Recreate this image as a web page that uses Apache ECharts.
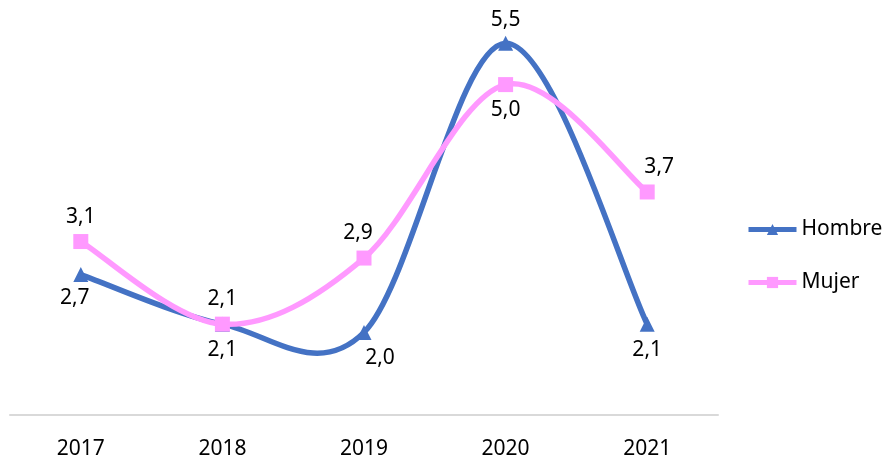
<!DOCTYPE html>
<html>
<head>
<meta charset="utf-8">
<script src="https://cdn.jsdelivr.net/npm/echarts@6/dist/echarts.min.js"></script>
<style>
  html, body { margin: 0; padding: 0; background: #fff; }
  #chart { width: 886px; height: 467px; }
</style>
</head>
<body>
<div id="chart"></div>
<script>
// datos
const years = ["2017", "2018", "2019", "2020", "2021"];
const hombre = [2.7, 2.1, 2.0, 5.5, 2.1];
const mujer = [3.1, 2.1, 2.9, 5.0, 3.7];

// posición de etiquetas por punto
const hombreLabel = [
  { position: "bottom", offset: [-6, 0] },
  { position: "bottom", offset: [0, 3] },
  { position: "bottom", offset: [16, 3] },
  { position: "top", offset: [0, 0] },
  { position: "bottom", offset: [0, 3] },
];
const mujerLabel = [
  { position: "top", offset: [0, -2] },
  { position: "top", offset: [0, -2] },
  { position: "top", offset: [-6, -2] },
  { position: "bottom", offset: [0, 2] },
  { position: "top", offset: [12, -2] },
];

const BLUE = "#4472C4";
const PINK = "#FF99FF";
const font = "Noto Sans";
const fmt = (p) => p.value.toFixed(1).replace(".", ",");

// curva suavizada tipo Excel (Catmull-Rom), sin recorte de extremos
function curva(values, color, z) {
  return {
    type: "custom",
    name: "_curva" + z,
    silent: true,
    z: z,
    data: [0],
    renderItem: function (params, api) {
      const pts = values.map((v, i) => api.coord([i, v]));
      const n = pts.length;
      let d = "M" + pts[0][0] + " " + pts[0][1];
      for (let i = 0; i < n - 1; i++) {
        const p0 = pts[Math.max(i - 1, 0)];
        const p1 = pts[i];
        const p2 = pts[i + 1];
        const p3 = pts[Math.min(i + 2, n - 1)];
        const c1x = p1[0] + (p2[0] - p0[0]) / 6;
        const c1y = p1[1] + (p2[1] - p0[1]) / 6;
        const c2x = p2[0] - (p3[0] - p1[0]) / 6;
        const c2y = p2[1] - (p3[1] - p1[1]) / 6;
        d += " C" + c1x + " " + c1y + " " + c2x + " " + c2y + " " + p2[0] + " " + p2[1];
      }
      return {
        type: "path",
        shape: { pathData: d },
        style: { stroke: color, lineWidth: 5.5, fill: null, lineCap: "round", lineJoin: "round" },
      };
    },
  };
}

const chart = echarts.init(document.getElementById("chart"));
chart.setOption({
  animation: false,
  textStyle: { fontFamily: font },
  grid: { left: 10, right: 168, top: 2, bottom: 52 },
  legend: {
    orient: "vertical",
    left: 741,
    top: 214,
    itemWidth: 48,
    itemHeight: 14,
    itemGap: 32,
    textStyle: { fontSize: 21, color: "#000", fontFamily: font },
    data: [
      { name: "Hombre", lineStyle: { opacity: 1, width: 5, color: BLUE } },
      { name: "Mujer", lineStyle: { opacity: 1, width: 5, color: PINK } },
    ],
  },
  xAxis: {
    type: "category",
    data: years,
    boundaryGap: true,
    axisLine: { lineStyle: { color: "#d9d9d9", width: 2 } },
    axisTick: { show: false },
    axisLabel: { color: "#000", fontSize: 21, margin: 24, fontFamily: font },
  },
  yAxis: {
    type: "value",
    min: 1,
    max: 6,
    show: false,
    splitLine: { show: false },
  },
  series: [
    curva(hombre, BLUE, 1),
    curva(mujer, PINK, 2),
    {
      name: "Hombre",
      type: "line",
      symbol: "triangle",
      symbolSize: 15,
      itemStyle: { color: BLUE },
      lineStyle: { width: 5, color: BLUE, opacity: 0 },
      label: { show: true, formatter: fmt, fontSize: 21, color: "#000", fontFamily: font },
      data: hombre.map((v, i) => ({ value: v, label: hombreLabel[i] })),
      z: 3,
    },
    {
      name: "Mujer",
      type: "line",
      symbol: "rect",
      symbolSize: 15,
      itemStyle: { color: PINK },
      lineStyle: { width: 5, color: PINK, opacity: 0 },
      label: { show: true, formatter: fmt, fontSize: 21, color: "#000", fontFamily: font },
      data: mujer.map((v, i) => ({ value: v, label: mujerLabel[i] })),
      z: 4,
    },
  ],
});
</script>
</body>
</html>
